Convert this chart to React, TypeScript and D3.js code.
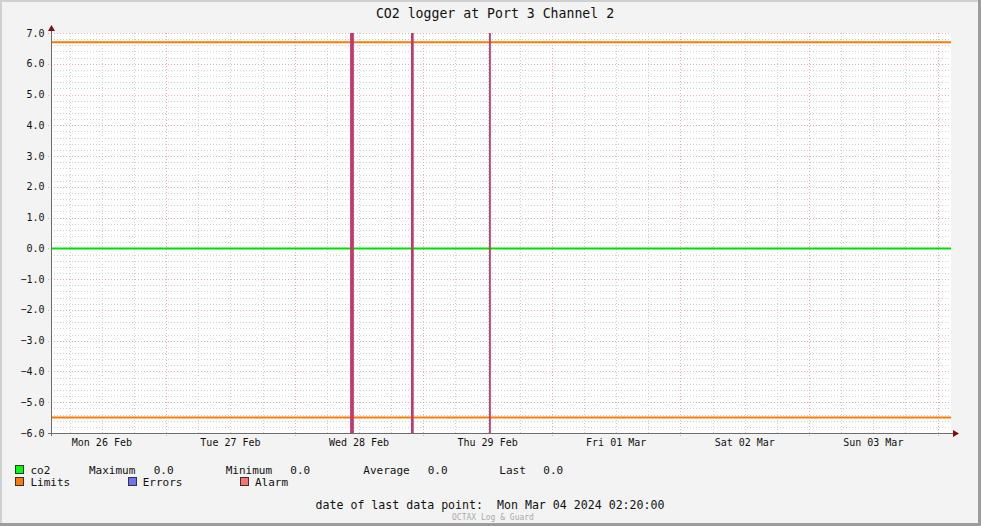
import React from "react";
import * as d3 from "d3";

const title = "CO2 logger at Port 3 Channel 2";
const timeStart = new Date(2024, 1, 26, 2, 30);
const timeEnd = new Date(2024, 2, 4, 2, 30);
const yTicks = [7, 6, 5, 4, 3, 2, 1, 0, -1, -2, -3, -4, -5, -6];
const co2Series = [
  { t: new Date(2024, 1, 26, 2, 30), v: 0 },
  { t: new Date(2024, 2, 4, 2, 30), v: 0 },
];
const limitValues = [6.7, -5.5];
const alarmEvents = [
  { from: new Date(2024, 1, 28, 10, 20), to: new Date(2024, 1, 28, 11, 2) },
  { from: new Date(2024, 1, 28, 21, 42), to: new Date(2024, 1, 28, 22, 12) },
  { from: new Date(2024, 1, 29, 12, 16), to: new Date(2024, 1, 29, 12, 36) },
];
const legendStats = [
  { label: "Maximum", value: "0.0" },
  { label: "Minimum", value: "0.0" },
  { label: "Average", value: "0.0" },
  { label: "Last", value: "0.0" },
];
const lastDataPoint = "Mon Mar 04 2024 02:20:00";

const W = 981, H = 526;
const L = 51, R = 951, T = 33, B = 433;
const MONO = "'DejaVu Sans Mono', monospace";

export default function App() {
  const x = d3.scaleTime().domain([timeStart, timeEnd]).range([L, R]);
  const y = d3.scaleLinear().domain([-6, 7]).range([B, T]);

  const minorY = d3.range(-6, 7.0001, 0.2).map((v) => Math.round(v * 10) / 10).filter((v) => Math.abs(v - Math.round(v)) > 1e-6);
  const days = d3.timeDay.range(timeStart, timeEnd);
  const sixHours = d3.timeHour.every(6)!.range(timeStart, timeEnd).filter((d) => d.getHours() !== 0);
  const noons = d3.timeDay
    .range(d3.timeDay.floor(timeStart), timeEnd)
    .map((d) => d3.timeHour.offset(d, 12))
    .filter((d) => d > timeStart && d < timeEnd);
  const fmt = d3.timeFormat("%a %d %b");
  const line = d3.line<{ t: Date; v: number }>().x((d) => x(d.t)).y((d) => y(d.v));

  const legendX = [89, 225.7, 363.3, 499.3];
  const legendValX = [153.7, 290.3, 427.7, 543.3];

  return (
    <svg width={W} height={H} style={{ position: "absolute", left: 0, top: 0, display: "block" }} fontFamily={MONO}>
      <rect x={0} y={0} width={W} height={H} fill="#f3f3f3" />
      <rect x={0} y={0} width={W} height={2} fill="#d0d0d0" />
      <rect x={0} y={0} width={2} height={H} fill="#d0d0d0" />
      <rect x={W - 3} y={0} width={3} height={H} fill="#9c9c9c" />
      <rect x={0} y={H - 3} width={W} height={3} fill="#9c9c9c" />
      <rect x={L} y={T} width={R - L} height={B - T} fill="#ffffff" />

      {/* minor horizontal grid */}
      {minorY.map((v) => (
        <line key={"mh" + v} x1={L} x2={R} y1={Math.round(y(v)) + 0.5} y2={Math.round(y(v)) + 0.5} stroke="#d2d2d2" strokeDasharray="1,2" />
      ))}
      {/* minor vertical grid */}
      {sixHours.map((d) => (
        <line key={"mv" + d.getTime()} x1={Math.round(x(d)) + 0.5} x2={Math.round(x(d)) + 0.5} y1={T} y2={B + 2} stroke="#d2d2d2" strokeDasharray="1,2" />
      ))}
      {/* major horizontal grid */}
      {yTicks.map((v) => (
        <line key={"Mh" + v} x1={L - 3} x2={R} y1={Math.round(y(v)) + 0.5} y2={Math.round(y(v)) + 0.5} stroke="#e8b0b0" strokeDasharray="1,2" />
      ))}
      {/* major vertical grid */}
      {days.map((d) => (
        <line key={"Mv" + d.getTime()} x1={Math.round(x(d)) + 0.5} x2={Math.round(x(d)) + 0.5} y1={T} y2={B + 3} stroke="#e8b0b0" strokeDasharray="1,2" />
      ))}

      {/* limits */}
      {limitValues.map((v) => (
        <line key={"l" + v} x1={L} x2={R} y1={y(v)} y2={y(v)} stroke="#ff7a00" strokeWidth={2} />
      ))}
      {/* co2 */}
      <path d={line(co2Series) || ""} fill="none" stroke="#00dd00" strokeWidth={2} />

      {/* alarm bars */}
      {alarmEvents.map((e, i) => (
        <rect key={"a" + i} x={x(e.from)} y={T} width={Math.max(1, x(e.to) - x(e.from))} height={B - T} fill="#c0386f" />
      ))}

      {/* axes */}
      <line x1={L + 0.5} x2={L + 0.5} y1={B + 3} y2={T - 4} stroke="#6e6e6e" />
      <line x1={L - 3} x2={R + 3} y1={B + 0.5} y2={B + 0.5} stroke="#6e6e6e" />
      <path d={`M${L - 3},${T - 2} L${L + 4},${T - 2} L${L + 0.5},${T - 8} Z`} fill="#7f1010" />
      <path d={`M${R + 2},${B - 3} L${R + 2},${B + 4} L${R + 8},${B + 0.5} Z`} fill="#7f1010" />

      {/* y labels */}
      {yTicks.map((v) => (
        <text key={"yt" + v} x={44.5} y={y(v) + 3.5} fontSize={10} textAnchor="end" fill="#111">
          {d3.format(".1f")(v)}
        </text>
      ))}
      {/* x labels */}
      {noons.map((d) => (
        <text key={"xt" + d.getTime()} x={x(d)} y={446} fontSize={10} textAnchor="middle" fill="#111">
          {fmt(d)}
        </text>
      ))}

      {/* title */}
      <text x={495} y={18} fontSize={13.2} textAnchor="middle" fill="#111">{title}</text>

      {/* legend row 1 */}
      <rect x={15.5} y={465.5} width={8} height={8} fill="#00ff00" stroke="#333" />
      <text x={30.5} y={474} fontSize={11} fill="#111">co2</text>
      {legendStats.map((s, i) => (
        <g key={s.label}>
          <text x={legendX[i]} y={474} fontSize={11} fill="#111">{s.label}</text>
          <text x={legendValX[i]} y={474} fontSize={11} fill="#111">{s.value}</text>
        </g>
      ))}
      {/* legend row 2 */}
      <rect x={15.5} y={477.5} width={8} height={8} fill="#ff7a00" stroke="#333" />
      <text x={30.5} y={486} fontSize={11} fill="#111">Limits</text>
      <rect x={128.5} y={477.5} width={8} height={8} fill="#7070ff" stroke="#333" />
      <text x={142.7} y={486} fontSize={11} fill="#111">Errors</text>
      <rect x={240.5} y={477.5} width={8} height={8} fill="#ff7070" stroke="#333" />
      <text x={255} y={486} fontSize={11} fill="#111">Alarm</text>

      <text x={315.5} y={509} fontSize={11.6} fill="#111" style={{ whiteSpace: "pre" }}>
        {"date of last data point:  " + lastDataPoint}
      </text>
      <text x={493} y={519.5} fontSize={8} textAnchor="middle" fill="#aaaaaa">OCTAX Log &amp; Guard</text>
    </svg>
  );
}
